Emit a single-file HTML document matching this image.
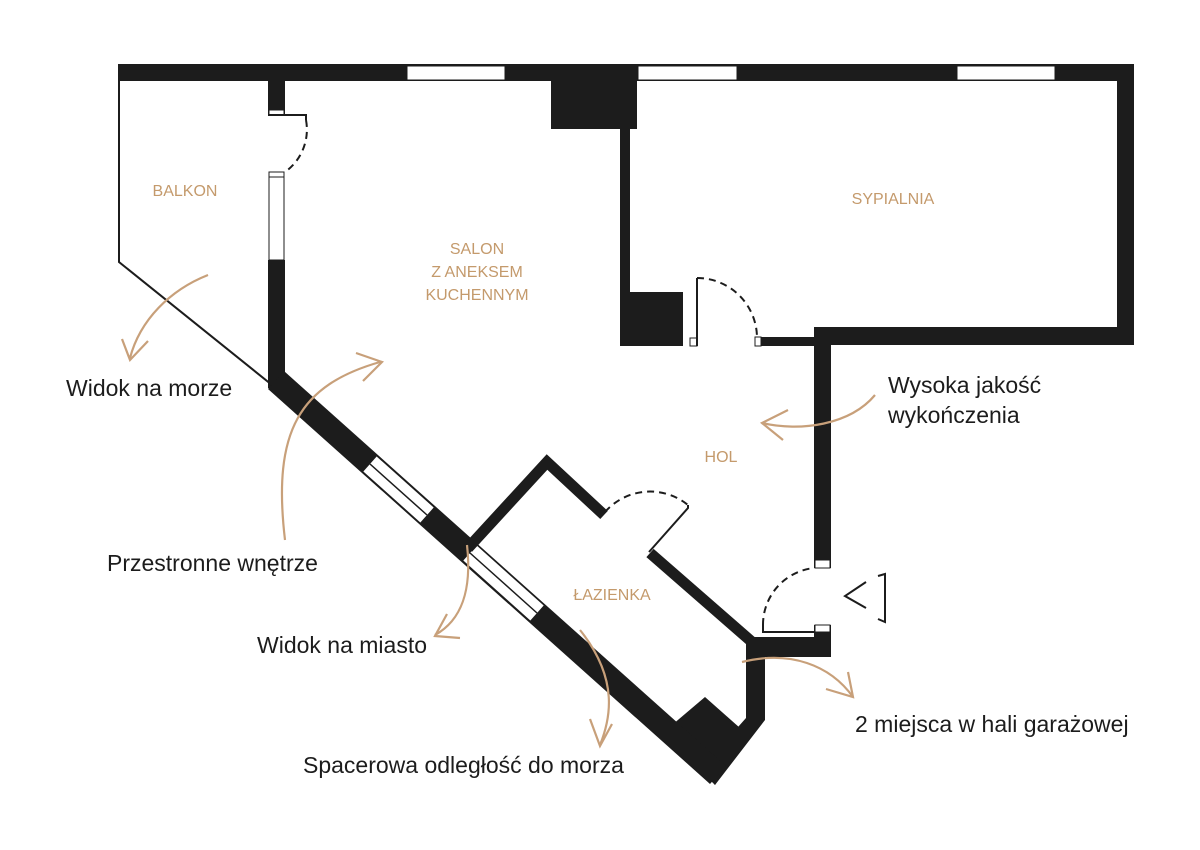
<!DOCTYPE html>
<html><head><meta charset="utf-8"><style>
html,body{margin:0;padding:0;background:#fff;}
svg{display:block;}
.lbl{font-family:"Liberation Sans",sans-serif;font-size:16px;fill:#c49a6c;text-anchor:middle;}
.txt{font-family:"Liberation Sans",sans-serif;font-size:23px;fill:#1c1c1c;}
.arr{fill:none;stroke:#c8a07a;stroke-width:2.2;}
.dash{fill:none;stroke:#1c1c1c;stroke-width:2;stroke-dasharray:7 5;}
.thin{fill:none;stroke:#1c1c1c;stroke-width:2;}
</style></head><body>
<svg width="1200" height="850" viewBox="0 0 1200 850" xmlns="http://www.w3.org/2000/svg">
<g fill="#1c1c1c">
<rect x="118" y="64" width="1016" height="17"/>
<rect x="1117" y="64" width="17" height="281"/>
<rect x="814" y="327" width="320" height="18"/>
<rect x="814" y="327" width="17" height="241"/>
<rect x="814" y="625" width="17" height="32"/>
<rect x="620" y="81" width="10" height="265"/>
<rect x="551" y="81" width="86" height="48"/>
<rect x="620" y="292" width="63" height="54"/>
<rect x="755" y="337" width="60" height="9"/>
<rect x="268" y="81" width="17" height="34"/>
<rect x="268" y="260" width="17" height="128"/>
<rect x="748" y="637" width="83" height="20"/>
<polygon points="746,640 765,640 765,720 715,785 700,770 746,718"/>
<polygon points="672,725 705,697 740,728 715,785"/>
</g>
<line x1="276" y1="380" x2="718" y2="775" stroke="#1c1c1c" stroke-width="24"/>
<line x1="370" y1="464" x2="427" y2="515" stroke="#fff" stroke-width="20"/>
<line x1="370" y1="464" x2="427" y2="515" stroke="#1c1c1c" stroke-width="1.5"/>
<line x1="470" y1="553" x2="537" y2="613" stroke="#fff" stroke-width="20"/>
<line x1="470" y1="553" x2="537" y2="613" stroke="#1c1c1c" stroke-width="1.5"/>
<polyline points="119,81 119,262 272,385" class="thin"/>
<g fill="#fff" stroke="#1c1c1c" stroke-width="1">
<rect x="407" y="66" width="98" height="14"/>
<rect x="638" y="66" width="99" height="14"/>
<rect x="957" y="66" width="98" height="14"/>
<rect x="269" y="176" width="15" height="84"/>
<rect x="269" y="110" width="15" height="5"/>
<rect x="269" y="172" width="15" height="5"/>
<rect x="690" y="338" width="7" height="8"/>
<rect x="755" y="337" width="6" height="9"/>
<rect x="815" y="560" width="15" height="8"/>
<rect x="815" y="625" width="15" height="7"/>
</g>
<polyline points="268,115 306,115 306,120" class="thin"/>
<path d="M306,120 A52,52 0 0 1 285,172" class="dash"/>
<polyline points="697,346 697,278" class="thin"/>
<path d="M697,278 A60,60 0 0 1 757,338" class="dash"/>
<polyline points="468,548 547,462 604,515" fill="none" stroke="#1c1c1c" stroke-width="11"/>
<line x1="650" y1="553" x2="752" y2="642" stroke="#1c1c1c" stroke-width="11"/>
<path d="M605,512 A60,60 0 0 1 688,505" class="dash"/>
<polyline points="688,505 688,508 649,552" class="thin"/>
<polyline points="814,632 763,632 763,625" class="thin"/>
<path d="M763,625 A57,57 0 0 1 814,568" class="dash"/>
<polyline points="866,582 845,596 866,608" class="thin" stroke-width="1.8"/>
<polyline points="878,576 885,574 885,622 878,619" class="thin" stroke-width="1.8"/>
<path class="arr" d="M208,275 C170,290 140,320 130,358"/>
<polyline class="arr" points="122,339 130,360 148,341"/>
<path class="arr" d="M285,540 C272,430 300,385 380,362"/>
<polyline class="arr" points="356,353 382,362 363,381"/>
<path class="arr" d="M875,395 C850,425 800,432 762,423"/>
<polyline class="arr" points="788,410 762,423 783,440"/>
<path class="arr" d="M467,545 C472,590 462,620 435,635"/>
<polyline class="arr" points="447,614 435,636 460,638"/>
<path class="arr" d="M580,630 C620,680 610,720 600,745"/>
<polyline class="arr" points="590,719 600,746 612,724"/>
<path class="arr" d="M742,662 C790,650 830,665 853,697"/>
<polyline class="arr" points="826,689 853,697 848,672"/>
<text class="lbl" x="185" y="196">BALKON</text>
<text class="lbl" x="477" y="254">SALON</text>
<text class="lbl" x="477" y="277">Z ANEKSEM</text>
<text class="lbl" x="477" y="300">KUCHENNYM</text>
<text class="lbl" x="893" y="204">SYPIALNIA</text>
<text class="lbl" x="721" y="462">HOL</text>
<text class="lbl" x="612" y="600">ŁAZIENKA</text>
<text class="txt" x="66" y="396">Widok na morze</text>
<text class="txt" x="107" y="571">Przestronne wnętrze</text>
<text class="txt" x="257" y="653">Widok na miasto</text>
<text class="txt" x="303" y="773">Spacerowa odległość do morza</text>
<text class="txt" x="855" y="732">2 miejsca w hali garażowej</text>
<text class="txt" x="888" y="393">Wysoka jakość</text>
<text class="txt" x="888" y="423">wykończenia</text>
</svg>
</body></html>
